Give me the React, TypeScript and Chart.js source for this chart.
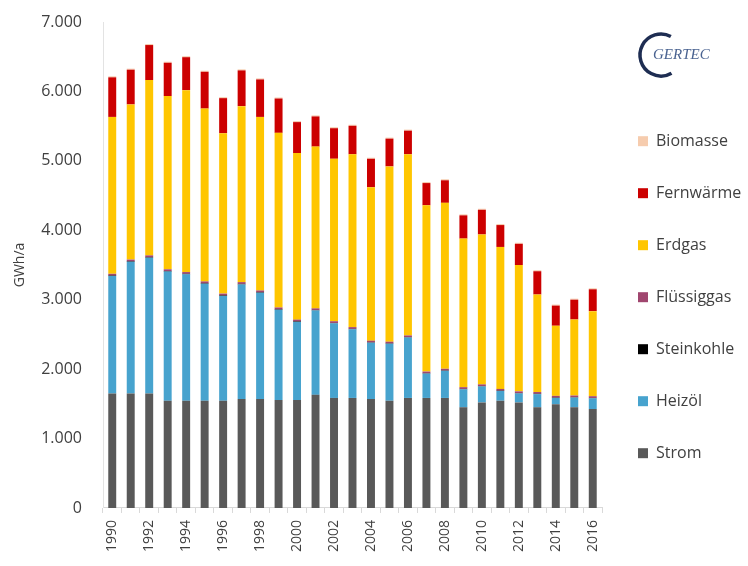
import React, { useEffect, useRef } from "react";
import { Chart, registerables } from "chart.js";

Chart.register(...registerables);

const years = [
  "1990", "1991", "1992", "1993", "1994", "1995", "1996", "1997", "1998", "1999",
  "2000", "2001", "2002", "2003", "2004", "2005", "2006", "2007", "2008", "2009",
  "2010", "2011", "2012", "2013", "2014", "2015", "2016",
];

const strom = [
  1650, 1650, 1650, 1545, 1545, 1545, 1545, 1570, 1570, 1555,
  1555, 1630, 1585, 1585, 1570, 1545, 1585, 1585, 1585, 1450,
  1520, 1545, 1520, 1450, 1495, 1450, 1425,
];
const heizoel = [
  1690, 1895, 1955, 1860, 1820, 1685, 1510, 1650, 1530, 1300,
  1125, 1215, 1075, 990, 810, 820, 870, 350, 390, 260,
  230, 140, 130, 190, 90, 140, 155,
];
const steinkohle = [
  8, 8, 8, 8, 8, 8, 8, 8, 8, 8,
  8, 5, 5, 5, 5, 5, 5, 5, 5, 5,
  5, 5, 5, 5, 5, 5, 5,
];
const fluessiggas = [
  25, 25, 25, 25, 25, 25, 25, 25, 25, 25,
  25, 25, 25, 25, 25, 25, 25, 25, 25, 25,
  25, 25, 25, 25, 25, 25, 25,
];
const erdgas = [
  2260, 2235, 2525, 2495, 2620, 2490, 2310, 2535, 2500, 2515,
  2400, 2330, 2340, 2490, 2210, 2525, 2610, 2395, 2390, 2140,
  2160, 2045, 1820, 1405, 1010, 1095, 1225,
];
const fernwaerme = [
  570, 500, 505, 480, 475, 530, 505, 515, 540, 495,
  445, 435, 440, 410, 410, 400, 340, 320, 325, 335,
  355, 315, 305, 335, 290, 285, 315,
];
const biomasse = [
  15, 15, 15, 15, 15, 15, 15, 15, 15, 15,
  15, 15, 15, 15, 15, 15, 15, 15, 15, 15,
  15, 15, 15, 15, 15, 15, 15,
];

const seriesNames = ["Strom", "Heizöl", "Steinkohle", "Flüssiggas", "Erdgas", "Fernwärme", "Biomasse"];
const seriesColors = ["#595959", "#47A3CE", "#000000", "#A0466F", "#FFC600", "#CC0000", "#F6CCAE"];

const yTicks = [0, 1000, 2000, 3000, 4000, 5000, 6000, 7000];

const logoPlugin = {
  id: "logo",
  afterDraw(chart: any) {
    const ctx = chart.ctx;
    ctx.save();
    ctx.strokeStyle = "#1E2D52";
    ctx.lineWidth = 3.5;
    ctx.beginPath();
    ctx.arc(661, 55, 21, (-62 * Math.PI) / 180, (60 * Math.PI) / 180, true);
    ctx.stroke();
    ctx.fillStyle = "#4A6391";
    ctx.font = "italic 15px 'Liberation Serif'";
    ctx.textBaseline = "middle";
    ctx.textAlign = "left";
    ctx.fillText("GERTEC", 653, 55);
    ctx.restore();
  },
};

export default function App() {
  const canvasRef = useRef<HTMLCanvasElement | null>(null);

  useEffect(() => {
    document.body.style.margin = "0";
    const canvas = canvasRef.current;
    if (!canvas) return;
    const data = [strom, heizoel, steinkohle, fluessiggas, erdgas, fernwaerme, biomasse];
    const chart = new Chart(canvas, {
      type: "bar",
      data: {
        labels: years,
        datasets: data.map((d, i) => ({
          label: seriesNames[i],
          data: d,
          backgroundColor: seriesColors[i],
          borderWidth: 0,
          barPercentage: 0.43,
          categoryPercentage: 1,
        })),
      },
      options: {
        responsive: false,
        animation: false,
        devicePixelRatio: 1,
        layout: { padding: { top: 0, bottom: 7, left: 0, right: 0 } },
        plugins: {
          tooltip: { enabled: false },
          legend: {
            position: "right",
            reverse: true,
            maxWidth: 146,
            title: { display: true, text: " ", font: { size: 12 }, padding: { top: 10, bottom: 11 } },
            labels: {
              boxWidth: 10,
              boxHeight: 10,
              padding: 36,
              color: "#404040",
              font: { family: "'Open Sans'", size: 16 },
            },
          },
        },
        scales: {
          x: {
            stacked: true,
            grid: {
              display: true,
              drawOnChartArea: false,
              drawTicks: true,
              tickLength: 5,
              offset: true,
              color: "#d9d9d9",
            },
            border: { color: "#d9d9d9" },
            ticks: {
              autoSkip: false,
              maxRotation: 90,
              minRotation: 90,
              padding: 7,
              color: "#404040",
              font: { family: "'Open Sans'", size: 14 },
              callback: (_v: any, i: number) => (i % 2 === 0 ? years[i] : ""),
            },
          },
          y: {
            stacked: true,
            min: 0,
            max: 7000,
            afterBuildTicks: (axis: any) => {
              axis.ticks = yTicks.map((v) => ({ value: v }));
            },
            afterFit: (axis: any) => {
              axis.width = 103;
              axis.paddingTop = 22;
            },
            grid: { display: false, drawTicks: false },
            border: { display: true, color: "#e3e3e3" },
            ticks: {
              padding: 21,
              color: "#404040",
              font: { family: "'Open Sans'", size: 16 },
              callback: (v: any) => Number(v).toLocaleString("de-DE"),
            },
            title: {
              display: true,
              text: "GWh/a",
              color: "#404040",
              font: { family: "'Open Sans'", size: 14 },
              padding: { top: 12, bottom: 12 },
            },
          },
        },
      },
      plugins: [logoPlugin],
    });
    return () => chart.destroy();
  }, []);

  return (
    <div style={{ width: 748, height: 566 }}>
      <canvas ref={canvasRef} width={748} height={566} />
    </div>
  );
}
